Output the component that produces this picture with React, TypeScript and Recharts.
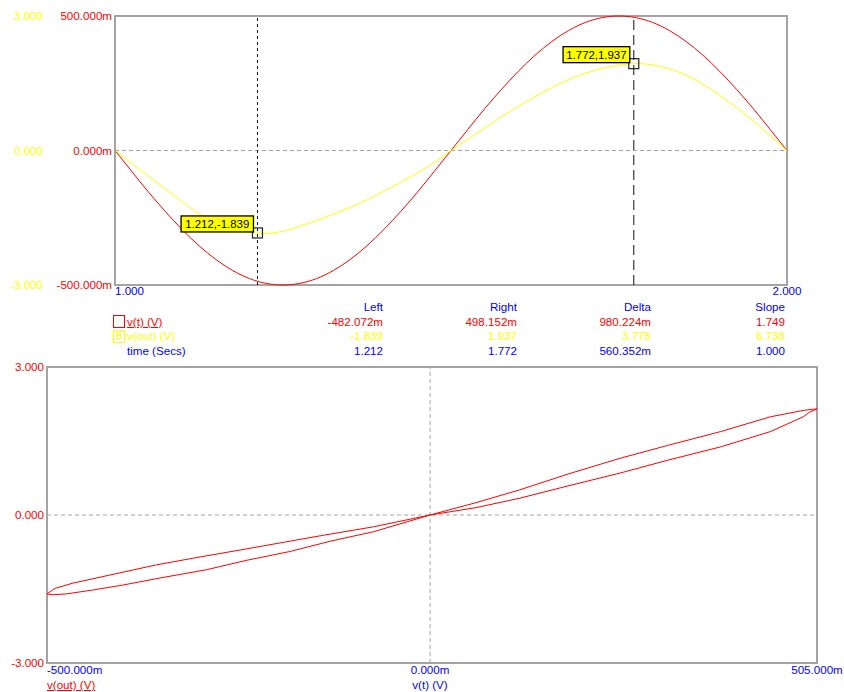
import React from "react";
import {
  LineChart,
  Line,
  XAxis,
  YAxis,
  ReferenceLine,
  ReferenceDot,
  ReferenceArea,
} from "recharts";

const FONT = '"Liberation Sans", Arial, sans-serif';
const FS = 11.6;
const RED = "#ff0000";
const YELLOW = "#ffff00";
const BLUE = "#0000ff";
const FRAME = "#a4a4a4";

// transient run, 1 s .. 2 s
const time = [
  1.0, 1.025, 1.05, 1.075, 1.1, 1.125, 1.15, 1.175, 1.2, 1.225, 1.25, 1.275, 1.3, 1.325,
  1.35, 1.375, 1.4, 1.425, 1.45, 1.475, 1.5, 1.525, 1.55, 1.575, 1.6, 1.625, 1.65, 1.675,
  1.7, 1.725, 1.75, 1.775, 1.8, 1.825, 1.85, 1.875, 1.9, 1.925, 1.95, 1.975, 2.0,
];
const vt = [
  0, -0.078, -0.155, -0.227, -0.294, -0.354, -0.405, -0.446, -0.476, -0.494, -0.5, -0.494,
  -0.476, -0.446, -0.405, -0.354, -0.294, -0.227, -0.155, -0.078, 0, 0.078, 0.155, 0.227,
  0.294, 0.354, 0.405, 0.446, 0.476, 0.494, 0.5, 0.494, 0.476, 0.446, 0.405, 0.354, 0.294,
  0.227, 0.155, 0.078, 0,
];
const vout = [
  0, -0.29, -0.57, -0.86, -1.14, -1.41, -1.61, -1.74, -1.82, -1.85, -1.8, -1.69, -1.56,
  -1.42, -1.27, -1.1, -0.91, -0.71, -0.5, -0.27, 0, 0.25, 0.5, 0.75, 0.98, 1.2, 1.4, 1.58,
  1.72, 1.83, 1.9, 1.94, 1.91, 1.82, 1.68, 1.48, 1.23, 0.96, 0.66, 0.33, 0,
];

// x-y trace: v(out) against v(t), one loop (upper branch, then lower branch back)
const loopVt = [
  -0.5, -0.49, -0.466, -0.41, -0.357, -0.3, -0.248, -0.19, -0.139, -0.074, 0, 0.06, 0.117,
  0.18, 0.248, 0.31, 0.379, 0.444, 0.487, 0.5, 0.505, 0.495, 0.487, 0.444, 0.379, 0.31, 0.248,
  0.18, 0.117, 0.06, 0, -0.074, -0.13, -0.183, -0.24, -0.292, -0.35, -0.401, -0.44, -0.475,
  -0.492, -0.5,
];
const loopVout = [
  -1.6, -1.49, -1.38, -1.19, -1.01, -0.85, -0.71, -0.55, -0.41, -0.24, 0, 0.25, 0.51, 0.83,
  1.15, 1.41, 1.69, 1.99, 2.12, 2.145, 2.15, 2.08, 1.99, 1.69, 1.38, 1.11, 0.85, 0.59, 0.34,
  0.15, 0, -0.34, -0.53, -0.74, -0.92, -1.11, -1.27, -1.42, -1.52, -1.6, -1.615, -1.6,
];

// cursors on v(out)
const cursorTime = [1.212, 1.772];
const cursorVout = [-1.839, 1.937];
const cursorDash = ["3 3", "10 5"];

// cursor readout table
const tableHeads = ["Left", "Right", "Delta", "Slope"];
const rowVt = ["-482.072m", "498.152m", "980.224m", "1.749"];
const rowVout = ["-1.839", "1.937", "3.775", "6.738"];
const rowTime = ["1.212", "1.772", "560.352m", "1.000"];
const tableCols = [383, 517, 651, 785];

const sweep = time.map((t, i) => ({ t, vt: vt[i], vout: vout[i] }));
const loop = loopVt.map((x, i) => ({ x, y: loopVout[i] }));

const milli = (v: number) => `${(v * 1000).toFixed(3)}m`;
const unit = (v: number) => v.toFixed(3);

const YTick = ({ x, y, payload, fill, fmt }: any) => (
  <text x={x} y={y} dy="0.355em" textAnchor="end" fill={fill} fontSize={FS} fontFamily={FONT}>
    {fmt(payload.value)}
  </text>
);

const XTick = ({ x, y, payload, index, fmt }: any) => (
  <text
    x={x}
    y={y}
    dy="0.71em"
    textAnchor={index === 0 ? "start" : "middle"}
    fill={BLUE}
    fontSize={FS}
    fontFamily={FONT}
  >
    {fmt(payload.value)}
  </text>
);

const CursorMark = ({ cx, cy, t, v }: any) => {
  const text = `${t.toFixed(3)},${v.toFixed(3)}`;
  const w = text.length * 5.7 + 4;
  return (
    <g>
      <rect x={cx - 5} y={cy - 5} width={10} height={10} fill="none" stroke="#222" strokeWidth={1.2} />
      <rect x={cx - 4 - w} y={cy - 17} width={w} height={16} fill={YELLOW} stroke="#000" strokeWidth={1.3} />
      <text
        x={cx - 4 - w / 2}
        y={cy - 9}
        dy="0.355em"
        textAnchor="middle"
        fontSize={11.4}
        fontFamily={FONT}
        fill="#000"
      >
        {text}
      </text>
    </g>
  );
};

const Txt = ({ x, y, color, children, align = "left", underline = false }: any) => (
  <div
    style={{
      position: "absolute",
      top: y - 6,
      lineHeight: "12px",
      fontSize: FS,
      fontFamily: FONT,
      color,
      whiteSpace: "nowrap",
      textDecoration: underline ? "underline" : "none",
      ...(align === "right"
        ? { right: 844 - x, textAlign: "right" as const }
        : align === "center"
        ? { left: x - 40, width: 80, textAlign: "center" as const }
        : { left: x }),
    }}
  >
    {children}
  </div>
);

export default function App() {
  return (
    <div
      style={{
        position: "absolute",
        left: 0,
        top: 0,
        width: 844,
        height: 692,
        background: "#fff",
        overflow: "hidden",
      }}
    >
      <div style={{ position: "absolute", left: 0, top: 0 }}>
        <LineChart width={844} height={300} data={sweep} margin={{ top: 16, right: 57, bottom: 0, left: 0 }}>
          <XAxis
            dataKey="t"
            type="number"
            domain={[1, 2]}
            ticks={[1, 2]}
            height={15}
            axisLine={false}
            tickLine={false}
            tickSize={0}
            tickMargin={2}
            tick={(p: any) => <XTick {...p} fmt={unit} />}
          />
          {/* v(t) scale sits next to the plot, v(out) scale outside it */}
          <YAxis
            yAxisId="a"
            domain={[-0.5, 0.5]}
            ticks={[-0.5, 0, 0.5]}
            width={70}
            axisLine={false}
            tickLine={false}
            tickSize={0}
            tickMargin={3}
            tick={(p: any) => <YTick {...p} fill={RED} fmt={milli} />}
          />
          <YAxis
            yAxisId="b"
            domain={[-3, 3]}
            ticks={[-3, 0, 3]}
            width={45}
            axisLine={false}
            tickLine={false}
            tickSize={0}
            tickMargin={2}
            tick={(p: any) => <YTick {...p} fill={YELLOW} fmt={unit} />}
          />
          <ReferenceArea
            yAxisId="a"
            x1={1}
            x2={2}
            y1={-0.5}
            y2={0.5}
            fill="none"
            stroke={FRAME}
            strokeWidth={2}
          />
          <ReferenceLine yAxisId="a" y={0} stroke={FRAME} strokeDasharray="4 3" />
          {cursorTime.map((t, i) => (
            <ReferenceLine key={t} yAxisId="a" x={t} stroke="#111" strokeDasharray={cursorDash[i]} />
          ))}
          <Line
            yAxisId="a"
            dataKey="vt"
            type="monotone"
            stroke={RED}
            strokeWidth={1}
            dot={false}
            isAnimationActive={false}
          />
          <Line
            yAxisId="b"
            dataKey="vout"
            type="monotone"
            stroke={YELLOW}
            strokeWidth={1}
            dot={false}
            isAnimationActive={false}
          />
          {cursorTime.map((t, i) => (
            <ReferenceDot
              key={t}
              yAxisId="b"
              x={t}
              y={cursorVout[i]}
              r={5}
              shape={(p: any) => <CursorMark cx={p.cx} cy={p.cy} t={t} v={cursorVout[i]} />}
            />
          ))}
        </LineChart>
      </div>

      {/* cursor readout */}
      {tableHeads.map((h, i) => (
        <Txt key={h} x={tableCols[i]} y={307} color={BLUE} align="right">
          {h}
        </Txt>
      ))}
      {rowVt.map((v, i) => (
        <Txt key={"a" + i} x={tableCols[i]} y={322} color={RED} align="right">
          {v}
        </Txt>
      ))}
      {rowVout.map((v, i) => (
        <Txt key={"b" + i} x={tableCols[i]} y={336} color={YELLOW} align="right">
          {v}
        </Txt>
      ))}
      {rowTime.map((v, i) => (
        <Txt key={"c" + i} x={tableCols[i]} y={351} color={BLUE} align="right">
          {v}
        </Txt>
      ))}
      <div
        style={{
          position: "absolute",
          left: 113,
          top: 315,
          width: 10,
          height: 11,
          border: `1px solid ${RED}`,
        }}
      />
      <div
        style={{
          position: "absolute",
          left: 113,
          top: 330,
          width: 10,
          height: 11,
          border: `1px solid ${YELLOW}`,
          color: YELLOW,
          fontSize: 10,
          lineHeight: "11px",
          textAlign: "center",
          fontFamily: FONT,
        }}
      >
        B
      </div>
      <Txt x={127} y={322} color={RED} underline>
        v(t) (V)
      </Txt>
      <Txt x={127} y={336} color={YELLOW}>
        v(out) (V)
      </Txt>
      <Txt x={127} y={351} color={BLUE}>
        time (Secs)
      </Txt>

      <div style={{ position: "absolute", left: 0, top: 350 }}>
        <LineChart width={844} height={342} data={loop} margin={{ top: 17, right: 27, bottom: 0, left: 0 }}>
          <XAxis
            dataKey="x"
            type="number"
            domain={[-0.5, 0.505]}
            ticks={[-0.5, 0, 0.505]}
            height={29}
            axisLine={false}
            tickLine={false}
            tickSize={0}
            tickMargin={3}
            tick={(p: any) => <XTick {...p} fmt={milli} />}
          />
          <YAxis
            domain={[-3, 3]}
            ticks={[-3, 0, 3]}
            width={47}
            axisLine={false}
            tickLine={false}
            tickSize={0}
            tickMargin={3}
            tick={(p: any) => <YTick {...p} fill={RED} fmt={unit} />}
          />
          <ReferenceArea x1={-0.5} x2={0.505} y1={-3} y2={3} fill="none" stroke={FRAME} strokeWidth={2} />
          <ReferenceLine y={0} stroke={FRAME} strokeDasharray="4 3" />
          <ReferenceLine x={0} stroke={FRAME} strokeDasharray="4 3" />
          <Line
            dataKey="y"
            type="linear"
            stroke={RED}
            strokeWidth={1}
            dot={false}
            isAnimationActive={false}
          />
        </LineChart>
      </div>
      <Txt x={47} y={685} color={RED} underline>
        v(out) (V)
      </Txt>
      <Txt x={430} y={685} color={BLUE} align="center">
        v(t) (V)
      </Txt>
    </div>
  );
}
